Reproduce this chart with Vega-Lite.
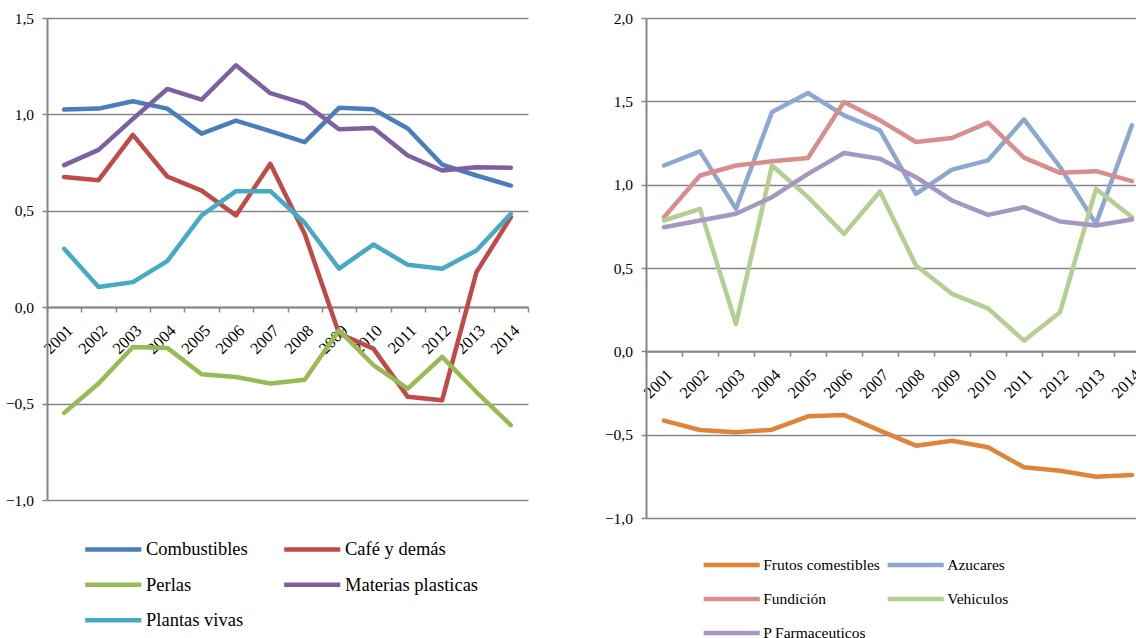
{
  "$schema": "https://vega.github.io/schema/vega-lite/v6.json",
  "background": "white",
  "padding": {"left": 5, "top": 11, "right": 0, "bottom": 0},
  "datasets": {
    "left": [
      {"year": "2001", "Combustibles": 1.025, "Café y demás": 0.675, "Perlas": -0.548, "Materias plasticas": 0.737, "Plantas vivas": 0.303},
      {"year": "2002", "Combustibles": 1.03, "Café y demás": 0.659, "Perlas": -0.396, "Materias plasticas": 0.816, "Plantas vivas": 0.105},
      {"year": "2003", "Combustibles": 1.068, "Café y demás": 0.894, "Perlas": -0.206, "Materias plasticas": 0.977, "Plantas vivas": 0.13},
      {"year": "2004", "Combustibles": 1.03, "Café y demás": 0.678, "Perlas": -0.211, "Materias plasticas": 1.132, "Plantas vivas": 0.239},
      {"year": "2005", "Combustibles": 0.9, "Café y demás": 0.605, "Perlas": -0.348, "Materias plasticas": 1.077, "Plantas vivas": 0.476},
      {"year": "2006", "Combustibles": 0.968, "Café y demás": 0.476, "Perlas": -0.362, "Materias plasticas": 1.255, "Plantas vivas": 0.602},
      {"year": "2007", "Combustibles": 0.913, "Café y demás": 0.744, "Perlas": -0.396, "Materias plasticas": 1.11, "Plantas vivas": 0.602},
      {"year": "2008", "Combustibles": 0.856, "Café y demás": 0.381, "Perlas": -0.376, "Materias plasticas": 1.056, "Plantas vivas": 0.438},
      {"year": "2009", "Combustibles": 1.034, "Café y demás": -0.137, "Perlas": -0.12, "Materias plasticas": 0.923, "Plantas vivas": 0.2},
      {"year": "2010", "Combustibles": 1.027, "Café y demás": -0.215, "Perlas": -0.3, "Materias plasticas": 0.93, "Plantas vivas": 0.325},
      {"year": "2011", "Combustibles": 0.927, "Café y demás": -0.465, "Perlas": -0.422, "Materias plasticas": 0.787, "Plantas vivas": 0.22},
      {"year": "2012", "Combustibles": 0.74, "Café y demás": -0.483, "Perlas": -0.258, "Materias plasticas": 0.709, "Plantas vivas": 0.2},
      {"year": "2013", "Combustibles": 0.683, "Café y demás": 0.182, "Perlas": -0.44, "Materias plasticas": 0.726, "Plantas vivas": 0.294},
      {"year": "2014", "Combustibles": 0.631, "Café y demás": 0.467, "Perlas": -0.612, "Materias plasticas": 0.723, "Plantas vivas": 0.484}
    ],
    "right": [
      {"year": "2001", "Frutos comestibles": -0.416, "Azucares": 1.115, "Fundición": 0.805, "Vehiculos": 0.785, "P Farmaceuticos": 0.745},
      {"year": "2002", "Frutos comestibles": -0.472, "Azucares": 1.2, "Fundición": 1.055, "Vehiculos": 0.855, "P Farmaceuticos": 0.785},
      {"year": "2003", "Frutos comestibles": -0.486, "Azucares": 0.855, "Fundición": 1.115, "Vehiculos": 0.164, "P Farmaceuticos": 0.825},
      {"year": "2004", "Frutos comestibles": -0.47, "Azucares": 1.436, "Fundición": 1.14, "Vehiculos": 1.115, "P Farmaceuticos": 0.925},
      {"year": "2005", "Frutos comestibles": -0.39, "Azucares": 1.55, "Fundición": 1.16, "Vehiculos": 0.925, "P Farmaceuticos": 1.065},
      {"year": "2006", "Frutos comestibles": -0.382, "Azucares": 1.416, "Fundición": 1.496, "Vehiculos": 0.705, "P Farmaceuticos": 1.19},
      {"year": "2007", "Frutos comestibles": -0.476, "Azucares": 1.326, "Fundición": 1.386, "Vehiculos": 0.959, "P Farmaceuticos": 1.156},
      {"year": "2008", "Frutos comestibles": -0.566, "Azucares": 0.945, "Fundición": 1.256, "Vehiculos": 0.515, "P Farmaceuticos": 1.045},
      {"year": "2009", "Frutos comestibles": -0.536, "Azucares": 1.09, "Fundición": 1.28, "Vehiculos": 0.345, "P Farmaceuticos": 0.905},
      {"year": "2010", "Frutos comestibles": -0.576, "Azucares": 1.146, "Fundición": 1.372, "Vehiculos": 0.258, "P Farmaceuticos": 0.819},
      {"year": "2011", "Frutos comestibles": -0.696, "Azucares": 1.392, "Fundición": 1.162, "Vehiculos": 0.064, "P Farmaceuticos": 0.865},
      {"year": "2012", "Frutos comestibles": -0.716, "Azucares": 1.106, "Fundición": 1.071, "Vehiculos": 0.234, "P Farmaceuticos": 0.779},
      {"year": "2013", "Frutos comestibles": -0.752, "Azucares": 0.765, "Fundición": 1.081, "Vehiculos": 0.975, "P Farmaceuticos": 0.755},
      {"year": "2014", "Frutos comestibles": -0.742, "Azucares": 1.356, "Fundición": 1.021, "Vehiculos": 0.805, "P Farmaceuticos": 0.791}
    ]
  },
  "spacing": 75,
  "resolve": {"scale": {"color": "independent", "y": "independent", "x": "independent"}, "legend": {"color": "independent"}},
  "hconcat": [
    {
      "width": 481,
      "height": 482,
      "data": {"name": "left"},
      "transform": [{"fold": ["Combustibles", "Café y demás", "Perlas", "Materias plasticas", "Plantas vivas"], "as": ["serie", "valor"]}],
      "mark": {"type": "line", "strokeWidth": 4.5, "strokeCap": "round", "strokeJoin": "round"},
      "encoding": {
        "x": {"field": "year", "type": "ordinal", "scale": {"type": "band", "paddingInner": 0, "paddingOuter": 0},
              "axis": {"title": null, "offset": -193, "labelAngle": -45, "labelAlign": "right", "labelBaseline": "top", "tickBand": "extent", "grid": false}},
        "y": {"field": "valor", "type": "quantitative", "scale": {"domain": [-1, 1.5], "nice": false, "zero": false},
              "axis": {"title": null, "values": [-1, -0.5, 0, 0.5, 1, 1.5], "labelExpr": "replace(format(datum.value, '.1f'), '.', ',')"}},
        "color": {"field": "serie", "type": "nominal",
                  "scale": {"domain": ["Combustibles", "Café y demás", "Perlas", "Materias plasticas", "Plantas vivas"],
                            "range": ["#4A7EBB", "#BE4B48", "#98B954", "#7D60A0", "#46AAC5"]},
                  "legend": {"orient": "none", "direction": "horizontal", "legendX": 57, "legendY": 522, "columns": 2, "columnPadding": 27, "rowPadding": 16.5, "labelFontSize": 18.5}}
      }
    },
    {
      "width": 504,
      "height": 500,
      "data": {"name": "right"},
      "transform": [{"fold": ["Frutos comestibles", "Azucares", "Fundición", "Vehiculos", "P Farmaceuticos"], "as": ["serie", "valor"]}],
      "mark": {"type": "line", "strokeWidth": 4.5, "strokeCap": "round", "strokeJoin": "round"},
      "encoding": {
        "x": {"field": "year", "type": "ordinal", "scale": {"type": "band", "paddingInner": 0, "paddingOuter": 0},
              "axis": {"title": null, "offset": -166.7, "labelAngle": -45, "labelAlign": "right", "labelBaseline": "top", "tickBand": "extent", "grid": false}},
        "y": {"field": "valor", "type": "quantitative", "scale": {"domain": [-1, 2], "nice": false, "zero": false},
              "axis": {"title": null, "values": [-1, -0.5, 0, 0.5, 1, 1.5, 2], "labelExpr": "replace(format(datum.value, '.1f'), '.', ',')"}},
        "color": {"field": "serie", "type": "nominal",
                  "scale": {"domain": ["Frutos comestibles", "Azucares", "Fundición", "Vehiculos", "P Farmaceuticos"],
                            "range": ["#E0843A", "#8DA8D0", "#D78E8C", "#B5CE91", "#A597C1"]},
                  "legend": {"orient": "none", "direction": "horizontal", "legendX": 77.7, "legendY": 539, "columns": 2, "columnPadding": -3, "rowPadding": 16, "labelFontSize": 15.5}}
      }
    }
  ],
  "config": {
    "font": "Liberation Serif",
    "view": {"stroke": null},
    "axis": {
      "labelFont": "Liberation Serif",
      "labelFontSize": 15.5,
      "labelColor": "#000000",
      "domainColor": "#868686",
      "domainWidth": 2,
      "gridColor": "#868686",
      "gridWidth": 1.5,
      "tickColor": "#868686",
      "tickWidth": 1.5,
      "tickSize": 5,
      "labelPadding": 8.5
    },
    "axisX": {"labelPadding": 10, "labelFontSize": 16.5},
    "legend": {
      "title": null,
      "labelFont": "Liberation Serif",
      "labelColor": "#000000",
      "symbolType": "M-5.1,0H5.1",
      "symbolSize": 121,
      "symbolStrokeWidth": 4.5,
      "labelOffset": 23.5,
      "padding": 0
    }
  }
}
